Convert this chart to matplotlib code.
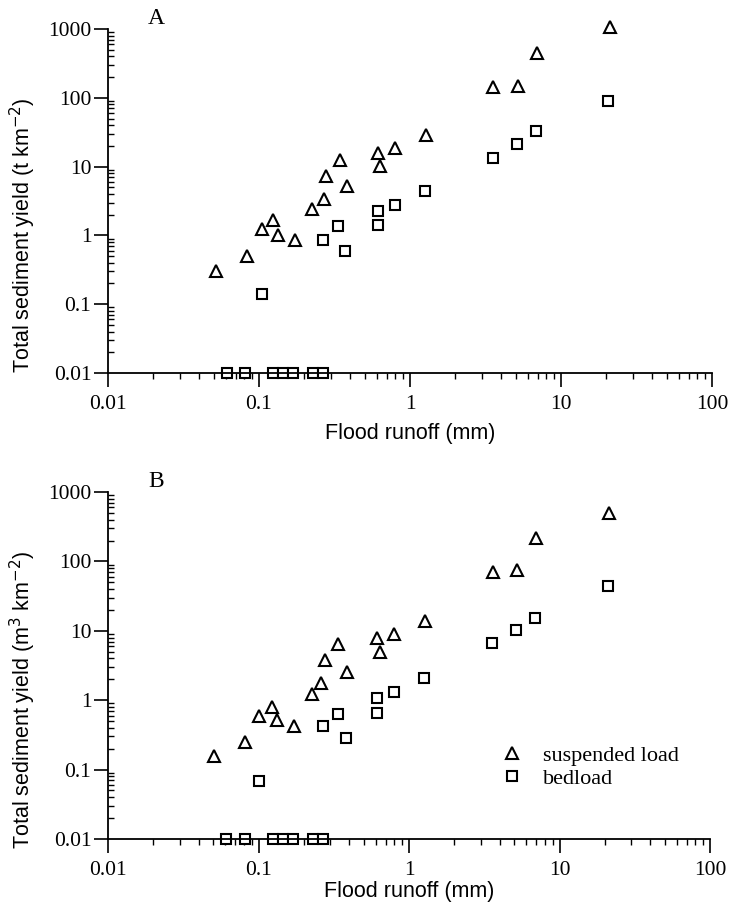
import numpy as np
import matplotlib
matplotlib.use('Agg')
import matplotlib.pyplot as plt
from matplotlib.ticker import LogLocator, FixedFormatter, FixedLocator, NullFormatter

# Panel A - tonnes per km2
runoff_susp_a = [0.052, 0.083, 0.105, 0.124, 0.134, 0.173, 0.225, 0.269, 0.278, 0.344, 0.381,
                 0.617, 0.63, 0.80, 1.27, 3.56, 5.2, 6.9, 21.1]
susp_a = [0.30, 0.50, 1.22, 1.65, 1.0, 0.87, 2.44, 3.4, 7.4, 12.6, 5.2,
          15.8, 10.1, 18.7, 29, 143, 149, 454, 1080]
runoff_bed_a = [0.061, 0.081, 0.124, 0.145, 0.169, 0.229, 0.267,
                0.104, 0.267, 0.335, 0.37, 0.617, 0.617, 0.80, 1.25, 3.56, 5.15, 6.8, 20.6]
bed_a = [0.01, 0.01, 0.01, 0.01, 0.01, 0.01, 0.01,
         0.14, 0.87, 1.36, 0.59, 2.3, 1.44, 2.8, 4.4, 13.4, 21.3, 33, 90]

# Panel B - m3 per km2
runoff_susp_b = [0.051, 0.081, 0.10, 0.123, 0.132, 0.171, 0.225, 0.262, 0.278, 0.34, 0.385,
                 0.617, 0.64, 0.79, 1.27, 3.6, 5.25, 7.0, 21.4]
susp_b = [0.157, 0.25, 0.60, 0.81, 0.51, 0.42, 1.21, 1.75, 3.8, 6.45, 2.58,
          7.8, 5.0, 8.9, 14.0, 71, 75, 215, 503]
runoff_bed_b = [0.061, 0.081, 0.124, 0.145, 0.169, 0.229, 0.267,
                0.10, 0.27, 0.335, 0.38, 0.617, 0.617, 0.80, 1.25, 3.56, 5.15, 6.9, 21.1]
bed_b = [0.01, 0.01, 0.01, 0.01, 0.01, 0.01, 0.01,
         0.0685, 0.42, 0.63, 0.29, 1.06, 0.645, 1.30, 2.11, 6.6, 10.3, 15.4, 44]

x_ticks = [0.01, 0.1, 1, 10, 100]
x_labels = ['0.01', '0.1', '1', '10', '100']
y_ticks = [0.01, 0.1, 1, 10, 100, 1000]
y_labels = ['0.01', '0.1', '1', '10', '100', '1000']

serif = 'Liberation Serif'
sans = 'Liberation Sans'

fig = plt.figure(figsize=(7.32, 9.22), dpi=100)
ax_a = fig.add_axes([108/732, 1-373/922, 604/732, 344/922])
ax_b = fig.add_axes([108/732, 1-839/922, 602/732, 347/922])


def style_axes(ax, ylabel, panel, xlab_y):
    ax.set_xscale('log')
    ax.set_yscale('log')
    ax.set_xlim(0.01, 100)
    ax.set_ylim(0.01, 1000)
    for s in ['top', 'right']:
        ax.spines[s].set_visible(False)
    for s in ['left', 'bottom']:
        ax.spines[s].set_linewidth(1.3)
    ax.xaxis.set_major_locator(FixedLocator(x_ticks))
    ax.xaxis.set_major_formatter(FixedFormatter(x_labels))
    ax.yaxis.set_major_locator(FixedLocator(y_ticks))
    ax.yaxis.set_major_formatter(FixedFormatter(y_labels))
    ax.xaxis.set_minor_locator(LogLocator(base=10, subs=np.arange(2, 10), numticks=20))
    ax.yaxis.set_minor_locator(LogLocator(base=10, subs=np.arange(2, 10), numticks=20))
    ax.xaxis.set_minor_formatter(NullFormatter())
    ax.yaxis.set_minor_formatter(NullFormatter())
    ax.tick_params(axis='x', which='major', direction='out', length=10, width=1.2, pad=6)
    ax.tick_params(axis='y', which='major', direction='out', length=10, width=1.2, pad=2)
    ax.tick_params(axis='x', which='minor', direction='out', length=4, width=1.0)
    ax.tick_params(axis='y', which='minor', direction='in', length=4, width=1.0)
    for lab in ax.get_xticklabels() + ax.get_yticklabels():
        lab.set_fontfamily(serif)
        lab.set_fontsize(15.5)
    ax.set_xlabel('Flood runoff (mm)', fontfamily=sans, fontsize=15.5)
    ax.xaxis.set_label_coords(0.5, xlab_y)
    ax.set_ylabel(ylabel, fontfamily=sans, fontsize=15.5)
    ax.yaxis.set_label_coords(-0.116, 0.40)
    ax.text(0.08, 1.0, panel, transform=ax.transAxes, fontfamily=serif, fontsize=17,
            ha='center', va='bottom')


def draw_points(ax, xs, ys, xb, yb):
    h1, = ax.plot(xs, ys, linestyle='none', marker='^', ms=8.5, mfc='white', mec='black',
                  mew=1.5, clip_on=False, label='suspended load')
    h2, = ax.plot(xb, yb, linestyle='none', marker='s', ms=7.5, mfc='white', mec='black',
                  mew=1.5, clip_on=False, label='bedload')
    return h1, h2


draw_points(ax_a, runoff_susp_a, susp_a, runoff_bed_a, bed_a)
style_axes(ax_a, 'Total sediment yield (t km$^{-2}$)', 'A', -0.145)

h1, h2 = draw_points(ax_b, runoff_susp_b, susp_b, runoff_bed_b, bed_b)
style_axes(ax_b, 'Total sediment yield (m$^3$ km$^{-2}$)', 'B', -0.12)

leg = ax_b.legend(handles=[h1, h2], loc='center left', bbox_to_anchor=(0.634, 0.207),
                  frameon=False, borderpad=0, handlelength=1.0, handletextpad=0.9,
                  labelspacing=0.1, prop={'family': serif, 'size': 16})

fig.savefig('out.png', dpi=100)
